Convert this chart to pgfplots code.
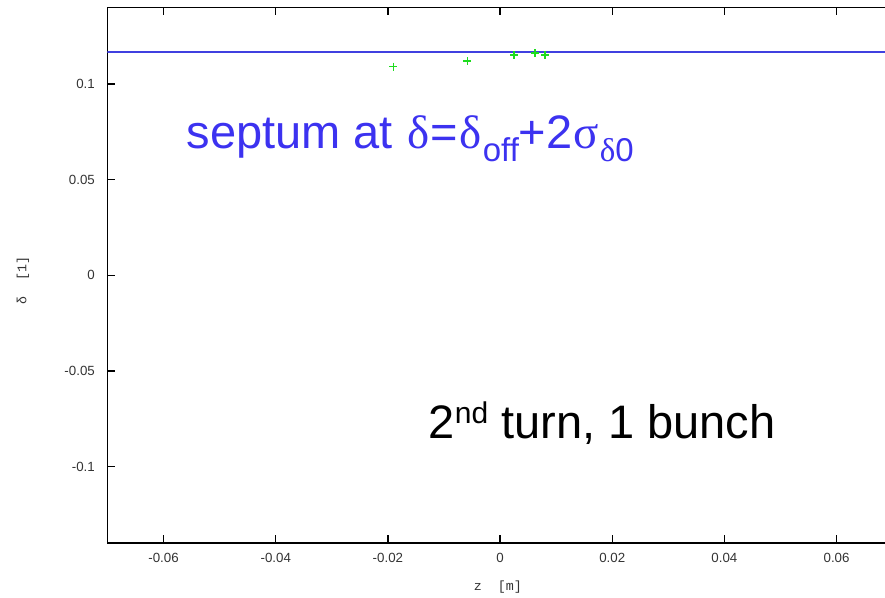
\documentclass[border=0pt]{standalone}
\usepackage{pgfplots}
\pgfplotsset{compat=1.18}
\usepackage{fontspec}
\setmainfont{Liberation Sans}
\newfontfamily\gr{Liberation Serif}
\newfontfamily\mono{Liberation Mono}
\definecolor{septblue}{RGB}{64,64,224}
\definecolor{txtblue}{RGB}{60,50,240}
\definecolor{ptgreen}{RGB}{30,220,30}
\begin{document}
\begin{tikzpicture}
\begin{axis}[
  at={(0pt,0pt)}, anchor=south west,
  scale only axis,
  width=777.5pt, height=535.5pt,
  xmin=-0.07, xmax=0.06864,
  ymin=-0.14, ymax=0.14,
  axis x line=box, axis y line=left,
  axis line style={line width=1.3pt, black, -},
  xtick={-0.06,-0.04,-0.02,0,0.02,0.04,0.06},
  ytick={-0.1,-0.05,0,0.05,0.1},
  tick align=inside,
  major tick length=8pt,
  tick style={line width=1.3pt, black},
  minor tick num=0,
  /pgf/number format/assume math mode=true,
  /pgf/number format/fixed,
  /pgf/number format/precision=2,
  tick label style={font=\fontsize{13.3}{15}\selectfont, text=black!80},
  xticklabel style={inner sep=0pt, anchor=north, yshift=-10.5pt},
  yticklabel style={inner sep=0pt, anchor=east, xshift=-12.5pt},
  scaled ticks=false,
  xlabel={z~~[m]},
  ylabel={δ~~[1]},
  xlabel style={font=\mono\fontsize{13.3}{15}\selectfont, text=black!80, at={(axis description cs:0.502,0)}, anchor=base, yshift=-47pt, inner sep=0pt},
  ylabel style={font=\mono\fontsize{13.3}{15}\selectfont, text=black!80, at={(axis description cs:0,0.491)}, anchor=center, rotate=0, yshift=84.5pt, inner sep=0pt},
  clip=true,
]
\addplot[septblue, line width=2.6pt, no marks] coordinates {(-0.07,0.1168) (0.07,0.1168)};
\addplot[only marks, mark=+, mark size=4pt, draw=ptgreen, mark options={draw=ptgreen, line width=1.6pt}] coordinates {
(-0.01903,0.1091)
(-0.00583,0.1119)
(0.00250,0.1151)
(0.00619,0.1162)
(0.00802,0.1153)
};
\node[anchor=base west, inner sep=0pt, text=txtblue, font=\fontsize{47}{50}\selectfont] at (axis cs:-0.05592,0.0661)
  {septum at {\gr\hspace{1.5pt}δ\hspace{1pt}}=\hspace{1.5pt}{\gr δ\hspace{1pt}}\raisebox{-12.7pt}{\fontsize{33}{35}\selectfont off}+2{\gr\hspace{1pt}σ\hspace{1pt}}\raisebox{-12.7pt}{\fontsize{33}{35}\selectfont{\gr δ}0}};
\node[anchor=base west, inner sep=0pt, text=black, font=\fontsize{47}{50}\selectfont] at (axis cs:-0.01275,-0.0855)
  {2\raisebox{15pt}{\fontsize{30}{32}\selectfont nd} turn, 1 bunch};
\end{axis}
\pgfresetboundingbox
\useasboundingbox (-107.5pt,-54pt) rectangle (777.5pt,543pt);
\end{tikzpicture}
\end{document}
